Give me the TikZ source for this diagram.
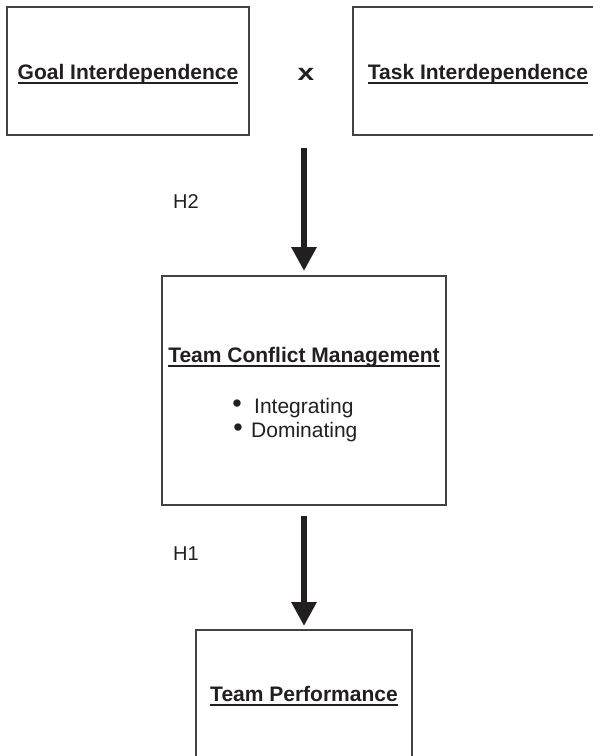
\documentclass[tikz,border=0pt]{standalone}
\usepackage{fontspec}
\setmainfont{Liberation Sans}
\usetikzlibrary{arrows.meta}
\definecolor{ink}{HTML}{231F20}
\newcommand{\myul}[1]{\setbox0\hbox{#1}\rlap{\rule[-4.5pt]{\wd0}{1.5pt}}\box0}
\begin{document}
\begin{tikzpicture}[x=1pt,y=-1pt,
  box/.style={draw=ink!85,line width=1.1pt,inner sep=0pt,outer sep=0pt,anchor=north west},
  ttl/.style={font=\fontsize{21}{25}\selectfont\bfseries,text=ink,inner sep=0pt,anchor=base},
  txt/.style={font=\fontsize{21}{25}\selectfont,text=ink,inner sep=0pt},
  bul/.style={font=\fontsize{27}{27}\selectfont,text=ink,inner sep=0pt,anchor=base},
  lbl/.style={font=\fontsize{20}{24}\selectfont,text=ink,inner sep=0pt,anchor=base west},
  bigarrow/.style={draw=ink,line width=6pt,-{Triangle[width=24pt,length=24pt]}}]
\useasboundingbox[fill=white] (0,0) rectangle (593,756);
% boxes
\node[box,minimum width=242pt,minimum height=128pt] (goal) at (7,7) {};
\node[box,minimum width=250pt,minimum height=128pt] (task) at (353,7) {};
\node[box,minimum width=284pt,minimum height=229pt] (tcm) at (162,276) {};
\node[box,minimum width=216pt,minimum height=128pt] (tp) at (196,630) {};
% texts
\node[ttl] (goalt) at (128,79) {\myul{Goal Interdependence}};
\node[ttl] (taskt) at (478,79) {\myul{Task Interdependence}};
\node[txt,anchor=base] (times) at (306,80) {\fontsize{23}{23}\selectfont\bfseries\scalebox{1.3}[1]{x}};
\node[ttl] (tcmt) at (304,362) {\myul{Team Conflict Management}};
\node[bul] (b1) at (237,412) {•};
\node[txt,anchor=base west] (i1) at (254,413) {Integrating};
\node[bul] (b2) at (238,436) {•};
\node[txt,anchor=base west] (d1) at (251,437) {Dominating};
\node[ttl] (tpt) at (304,701) {\myul{Team Performance}};
\node[lbl] (h2) at (173,208) {H2};
\node[lbl] (h1) at (173,560) {H1};
% arrows
\coordinate (a1s) at (304,148);
\draw[bigarrow,shorten >=5pt] (a1s) -- (tcm.north);
\draw[bigarrow,shorten <=11pt,shorten >=4pt] (tcm.south) -- (tp.north);
\end{tikzpicture}
\end{document}
